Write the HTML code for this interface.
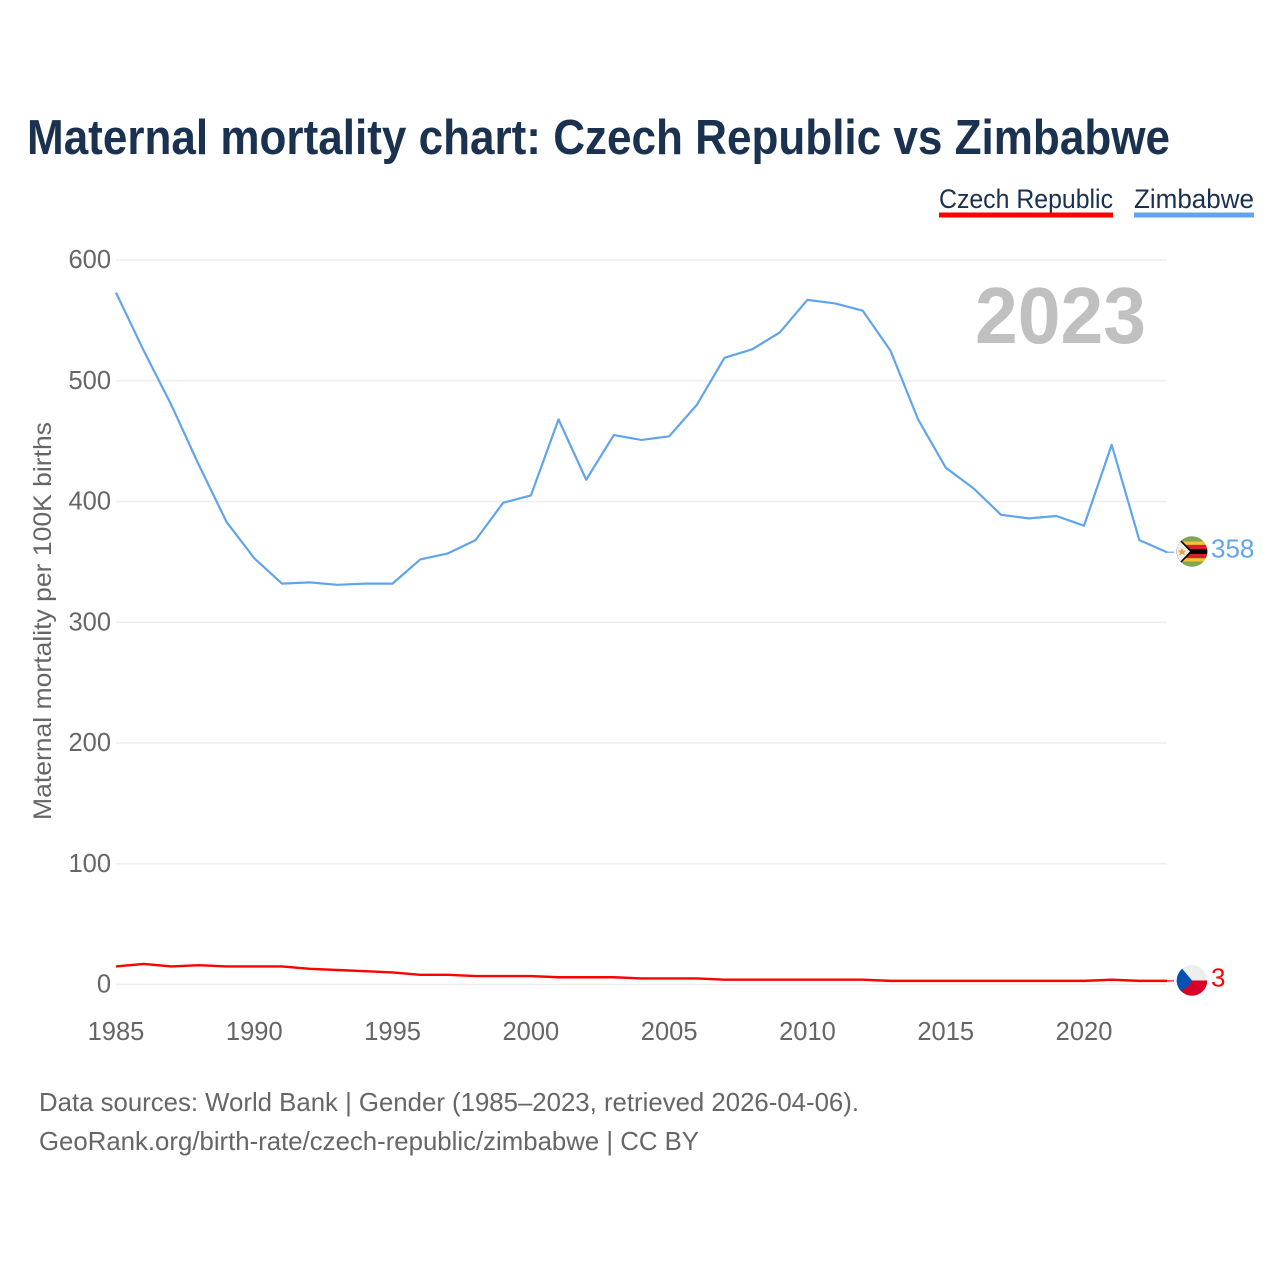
<!DOCTYPE html>
<html lang="en">
<head>
<meta charset="utf-8">
<title>Maternal mortality chart: Czech Republic vs Zimbabwe</title>
<style>
html,body{margin:0;padding:0;background:#fff;}
svg{display:block;font-family:"Liberation Sans",sans-serif;}
</style>
</head>
<body>
<svg id="chart" xmlns="http://www.w3.org/2000/svg" width="1280" height="1280" viewBox="0 0 1280 1280">
  <defs>
    <clipPath id="flag-clip"><circle cx="0" cy="0" r="15.3"></circle></clipPath>
  </defs>
  <rect x="0" y="0" width="1280" height="1280" fill="#ffffff"></rect>
  <text x="27" y="154" font-size="49" font-weight="700" fill="#1a3150" textLength="1143" lengthAdjust="spacingAndGlyphs">Maternal mortality chart: Czech Republic vs Zimbabwe</text>

  <text x="939" y="208" font-size="27" fill="#1a3150" textLength="174" lengthAdjust="spacingAndGlyphs">Czech Republic</text>
  <rect x="939" y="212.5" width="174" height="5" fill="#ff0000"></rect>
  <text x="1134" y="208" font-size="27" fill="#1a3150" textLength="120" lengthAdjust="spacingAndGlyphs">Zimbabwe</text>
  <rect x="1134" y="212.5" width="120" height="5" fill="#60a5ec"></rect>

  <g id="grid"></g>
  <g id="y-ticks"></g>
  <g id="x-ticks"></g>

  <text transform="translate(51,820) rotate(-90)" x="0" y="0" font-size="25" fill="#666666" textLength="398" lengthAdjust="spacingAndGlyphs">Maternal mortality per 100K births</text>

  <text x="975" y="343" font-size="80" font-weight="700" fill="#c0c0c0" textLength="171" lengthAdjust="spacingAndGlyphs">2023</text>

  <g id="series"></g>

  <g id="flag-zw" transform="translate(1192,551)">
    <g clip-path="url(#flag-clip)">
      <rect x="-16" y="-16" width="32" height="32" fill="#7fa655"></rect>
      <rect x="-16" y="-10" width="32" height="20" fill="#f4c430"></rect>
      <rect x="-16" y="-6.7" width="32" height="13.4" fill="#d8202a"></rect>
      <rect x="-16" y="-2.5" width="32" height="5" fill="#000000"></rect>
      <polygon points="-17,-17.5 -17,17.5 0.5,0" fill="#000000"></polygon>
      <polygon points="-17,-15.5 -17,15.5 -2,0" fill="#eeeeee"></polygon>
      <polygon points="-10,-4 -8.8,-1 -6,-1 -8,1 -7,4 -10,2.2 -13,4 -12,1 -14,-1 -11.2,-1" fill="#e8a040"></polygon>
    </g>
  </g>
  <g id="flag-cz" transform="translate(1192,981)">
    <g clip-path="url(#flag-clip)">
      <rect x="-16" y="-16" width="32" height="16" fill="#eeeeee"></rect>
      <rect x="-16" y="0" width="32" height="16" fill="#d80027"></rect>
      <polygon points="-16,-13.5 -16,13.5 -4,6 0,0 -10,-12" fill="#0052b4"></polygon>
    </g>
  </g>

  <g id="end-labels"></g>

  <text x="39" y="1111" font-size="26" fill="#666666" textLength="820" lengthAdjust="spacingAndGlyphs">Data sources: World Bank | Gender (1985–2023, retrieved 2026-04-06).</text>
  <text x="39" y="1150" font-size="26" fill="#666666" textLength="660" lengthAdjust="spacingAndGlyphs">GeoRank.org/birth-rate/czech-republic/zimbabwe | CC BY</text>
</svg>
<script>
var years = [1985,1986,1987,1988,1989,1990,1991,1992,1993,1994,1995,1996,1997,1998,1999,2000,2001,2002,2003,2004,2005,2006,2007,2008,2009,2010,2011,2012,2013,2014,2015,2016,2017,2018,2019,2020,2021,2022,2023];
var zimbabweValues = [573,525,480,430,383,353,332,333,331,332,332,352,357,368,399,405,468,418,455,451,454,480,519,526,540,567,564,558,525,468,428,411,389,386,388,380,447,368,358];
var czechValues = [15,17,15,16,15,15,15,13,12,11,10,8,8,7,7,7,6,6,6,5,5,5,4,4,4,4,4,4,3,3,3,3,3,3,3,3,4,3,3];
var yTickValues = [0,100,200,300,400,500,600];
var xTickValues = [1985,1990,1995,2000,2005,2010,2015,2020];

var NS = 'http://www.w3.org/2000/svg';
function xScale(year) { return 116 + (year - 1985) * (1167 - 116) / (2023 - 1985); }
function yScale(value) { return 984.5 - value * (984.5 - 260) / 600; }
function make(tag, attrs, parent, text) {
  var el = document.createElementNS(NS, tag);
  for (var k in attrs) { el.setAttribute(k, attrs[k]); }
  if (text !== undefined) { el.textContent = text; }
  parent.appendChild(el);
  return el;
}

var gridGroup = document.getElementById('grid');
var yTickGroup = document.getElementById('y-ticks');
yTickValues.forEach(function (v) {
  var line = make('line', {x1: 116, x2: 1167, y1: yScale(v), y2: yScale(v), stroke: '#eeeeee', 'stroke-width': 1.5}, gridGroup);
  
  
  var label = make('text', {x: 111, y: yScale(v) + 8, 'text-anchor': 'end', 'font-size': 25.5, fill: '#666666'}, yTickGroup, String(v));
  
  
});

var xTickGroup = document.getElementById('x-ticks');
xTickValues.forEach(function (t) {
  var label = make('text', {x: xScale(t), y: 1040, 'text-anchor': 'middle', 'font-size': 25.5, fill: '#666666'}, xTickGroup, String(t));
  
  
});

function linePoints(values) {
  return values.map(function (v, i) { return xScale(years[i]).toFixed(2) + ',' + yScale(v).toFixed(2); }).join(' ');
}

var seriesGroup = document.getElementById('series');
var labelGroup = document.getElementById('end-labels');

var czechLine = make('polyline', {points: linePoints(czechValues), fill: 'none', stroke: '#ff0000', 'stroke-width': 2.4, 'stroke-linejoin': 'round'}, seriesGroup);



var zimbabweLine = make('polyline', {points: linePoints(zimbabweValues), fill: 'none', stroke: '#60a5ec', 'stroke-width': 2.2, 'stroke-linejoin': 'round'}, seriesGroup);



var lastIndex = years.length - 1;
var czechEnd = czechValues[lastIndex];
var zimbabweEnd = zimbabweValues[lastIndex];

var czechConnector = make('line', {x1: 1167, x2: 1174, y1: yScale(czechEnd), y2: yScale(czechEnd), stroke: '#ff0000', 'stroke-width': 1.2}, seriesGroup);



var zimbabweConnector = make('line', {x1: 1167, x2: 1174, y1: yScale(zimbabweEnd), y2: yScale(zimbabweEnd), stroke: '#60a5ec', 'stroke-width': 1.2}, seriesGroup);



document.getElementById('flag-zw').setAttribute('transform', 'translate(1192,' + (yScale(zimbabweEnd) - 0.7) + ')');
document.getElementById('flag-cz').setAttribute('transform', 'translate(1192,' + (yScale(czechEnd) - 0.4) + ')');

var zimbabweLabel = make('text', {x: 1211, y: yScale(zimbabweEnd) + 5.5, 'font-size': 26, fill: '#60a5ec'}, labelGroup, String(zimbabweEnd));



var czechLabel = make('text', {x: 1211, y: yScale(czechEnd) + 5.5, 'font-size': 26, fill: '#ff0000'}, labelGroup, String(czechEnd));


</script>
</body>
</html>
